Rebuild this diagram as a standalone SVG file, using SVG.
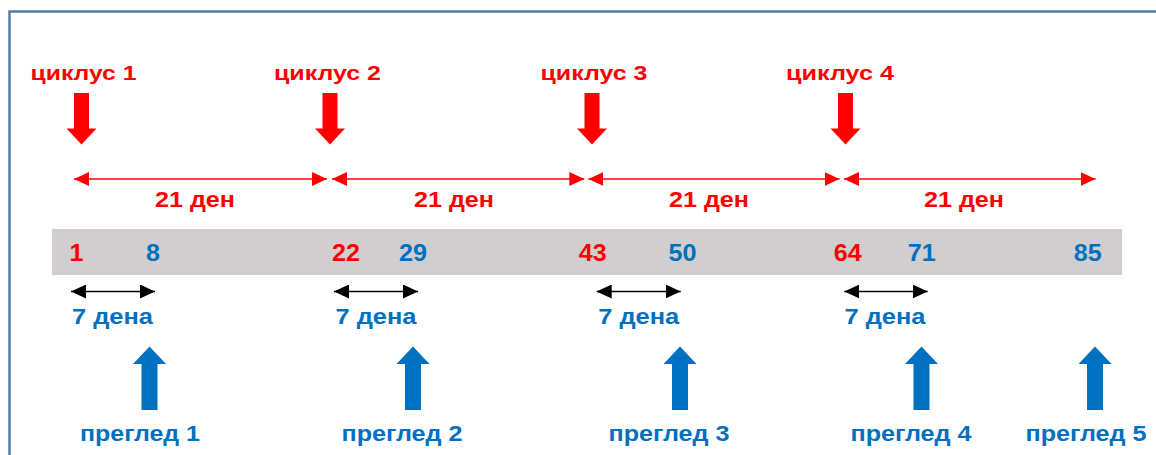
<svg xmlns="http://www.w3.org/2000/svg" xmlns:xlink="http://www.w3.org/1999/xlink" width="1156" height="455" viewBox="0 0 1156 455">
  <style>
    text { font-family: "Liberation Sans", Arial, sans-serif; font-weight: bold; text-anchor: middle; }
    .red { fill: #ff0000; }
    .blue { fill: #0070c0; }
    .cyc { font-size: 21px; }
    .lbl { font-size: 22.5px; }
    .num { font-size: 23px; }
    .span { stroke: #ff0000; stroke-width: 1.5; fill: none; marker-start: url(#redHead); marker-end: url(#redHead); }
    .week { stroke: #000000; stroke-width: 1.5; fill: none; marker-start: url(#blackHead); marker-end: url(#blackHead); }
  </style>
  <defs>
    <marker id="redHead" markerUnits="userSpaceOnUse" markerWidth="15" markerHeight="14" refX="15" refY="7" orient="auto-start-reverse" viewBox="0 0 15 14">
      <path d="M0,0 L15,7 L0,14 Z" fill="#ff0000"/>
    </marker>
    <marker id="blackHead" markerUnits="userSpaceOnUse" markerWidth="15" markerHeight="14" refX="15" refY="7" orient="auto-start-reverse" viewBox="0 0 15 14">
      <path d="M0,0 L15,7 L0,14 Z" fill="#000000"/>
    </marker>
    <!-- block arrow pointing down, origin at top centre of the shaft -->
    <path id="downArrow" d="M-7.5,0 H7.5 V35.5 H15 L0,51.5 L-15,35.5 H-7.5 Z" fill="#ff0000"/>
    <!-- block arrow pointing up, origin at the tip -->
    <path id="upArrow" d="M0,0 L16.5,17.5 H8 V63.5 H-8 V17.5 H-16.5 Z" fill="#0070c0"/>
  </defs>

  <!-- frame -->
  <path d="M9.5,455 V11.5 H1156" fill="none" stroke="#527ca8" stroke-width="2.5"/>

  <!-- timeline bar -->
  <rect id="bar" x="52" y="229" width="1070" height="46" fill="#d0cece"/>

  <!-- cycle markers -->
  <g id="cycle1">
    <text class="red cyc" x="83.5" y="80" textLength="106" lengthAdjust="spacingAndGlyphs">циклус 1</text>
    <use xlink:href="#downArrow" x="81.5" y="93"/>
  </g>
  <g id="cycle2">
    <text class="red cyc" x="327.5" y="80" textLength="107" lengthAdjust="spacingAndGlyphs">циклус 2</text>
    <use xlink:href="#downArrow" x="330" y="93"/>
  </g>
  <g id="cycle3">
    <text class="red cyc" x="594" y="80" textLength="107" lengthAdjust="spacingAndGlyphs">циклус 3</text>
    <use xlink:href="#downArrow" x="592" y="93"/>
  </g>
  <g id="cycle4">
    <text class="red cyc" x="840" y="80" textLength="108" lengthAdjust="spacingAndGlyphs">циклус 4</text>
    <use xlink:href="#downArrow" x="845.5" y="93"/>
  </g>

  <!-- 21-day span labels -->
  <g id="span-labels">
    <text class="red lbl" x="195" y="207" textLength="80" lengthAdjust="spacingAndGlyphs">21 ден</text>
    <text class="red lbl" x="454" y="207" textLength="80" lengthAdjust="spacingAndGlyphs">21 ден</text>
    <text class="red lbl" x="709" y="207" textLength="80" lengthAdjust="spacingAndGlyphs">21 ден</text>
    <text class="red lbl" x="964" y="207" textLength="80" lengthAdjust="spacingAndGlyphs">21 ден</text>
  </g>

  <!-- day numbers on the bar -->
  <g id="days">
    <text class="red num" x="76.5" y="260.5" textLength="14" lengthAdjust="spacingAndGlyphs">1</text>
    <text class="blue num" x="153" y="260.5" textLength="14" lengthAdjust="spacingAndGlyphs">8</text>
    <text class="red num" x="346" y="260.5" textLength="28" lengthAdjust="spacingAndGlyphs">22</text>
    <text class="blue num" x="413" y="260.5" textLength="28" lengthAdjust="spacingAndGlyphs">29</text>
    <text class="red num" x="592.7" y="260.5" textLength="28" lengthAdjust="spacingAndGlyphs">43</text>
    <text class="blue num" x="682.5" y="260.5" textLength="28" lengthAdjust="spacingAndGlyphs">50</text>
    <text class="red num" x="847.8" y="260.5" textLength="28" lengthAdjust="spacingAndGlyphs">64</text>
    <text class="blue num" x="921.7" y="260.5" textLength="28" lengthAdjust="spacingAndGlyphs">71</text>
    <text class="blue num" x="1087.8" y="260.5" textLength="28" lengthAdjust="spacingAndGlyphs">85</text>
  </g>

  <!-- 7-day labels -->
  <g id="week-labels">
    <text class="blue lbl" x="112.5" y="324" textLength="81" lengthAdjust="spacingAndGlyphs">7 дена</text>
    <text class="blue lbl" x="376" y="324" textLength="81" lengthAdjust="spacingAndGlyphs">7 дена</text>
    <text class="blue lbl" x="638.7" y="324" textLength="81" lengthAdjust="spacingAndGlyphs">7 дена</text>
    <text class="blue lbl" x="885" y="324" textLength="81" lengthAdjust="spacingAndGlyphs">7 дена</text>
  </g>

  <!-- check-ups -->
  <g id="checkup1">
    <use xlink:href="#upArrow" x="149.5" y="346.5"/>
    <text class="blue lbl" x="140" y="441" textLength="120" lengthAdjust="spacingAndGlyphs">преглед 1</text>
  </g>
  <g id="checkup2">
    <use xlink:href="#upArrow" x="413" y="346.5"/>
    <text class="blue lbl" x="402" y="441" textLength="121" lengthAdjust="spacingAndGlyphs">преглед 2</text>
  </g>
  <g id="checkup3">
    <use xlink:href="#upArrow" x="680" y="346.5"/>
    <text class="blue lbl" x="669" y="441" textLength="121" lengthAdjust="spacingAndGlyphs">преглед 3</text>
  </g>
  <g id="checkup4">
    <use xlink:href="#upArrow" x="921.5" y="346.5"/>
    <text class="blue lbl" x="911" y="441" textLength="121" lengthAdjust="spacingAndGlyphs">преглед 4</text>
  </g>
  <g id="checkup5">
    <use xlink:href="#upArrow" x="1095" y="346.5"/>
    <text class="blue lbl" x="1086" y="441" textLength="121" lengthAdjust="spacingAndGlyphs">преглед 5</text>
  </g>

  <!-- span connectors -->
  <g id="connectors">
    <line class="span" x1="74" y1="179" x2="327" y2="179"/>
    <line class="span" x1="332" y1="179" x2="584.3" y2="179"/>
    <line class="span" x1="588.3" y1="179" x2="839.5" y2="179"/>
    <line class="span" x1="844" y1="179" x2="1095.5" y2="179"/>
    <line class="week" x1="71" y1="291.5" x2="155" y2="291.5"/>
    <line class="week" x1="334" y1="291.5" x2="418" y2="291.5"/>
    <line class="week" x1="596.7" y1="291.5" x2="680.7" y2="291.5"/>
    <line class="week" x1="844.3" y1="291.5" x2="927.7" y2="291.5"/>
  </g>
</svg>
